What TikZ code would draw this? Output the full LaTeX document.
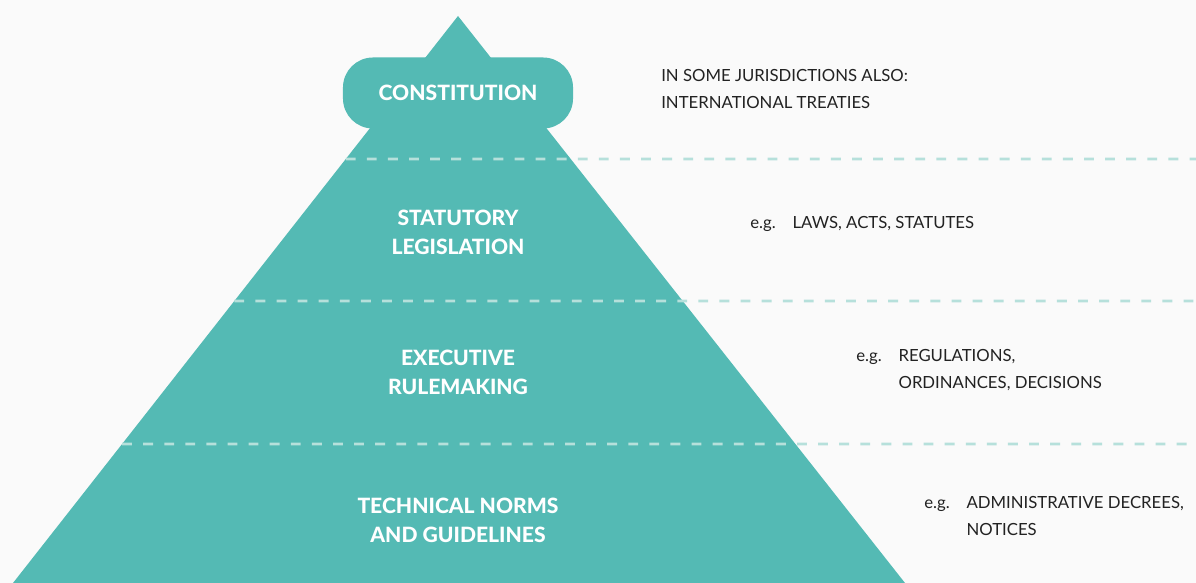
\documentclass[tikz,border=0pt]{standalone}
\usepackage{fontspec}
\setmainfont{Lato}[BoldFont={Lato Heavy}]
\usetikzlibrary{positioning, calc}
\definecolor{PyramidTeal}{RGB}{84, 186, 180}
\definecolor{DividerTeal}{RGB}{182, 224, 219}
\definecolor{PageGrey}{RGB}{250, 250, 250}
\definecolor{NoteDark}{RGB}{34, 34, 34}

\begin{document}
\begin{tikzpicture}[x=0.025cm, y=-0.025cm,
        level/.style={text=white, align=center, font=\fontsize{15}{20.5}\selectfont\bfseries},
        note/.style={text=NoteDark, align=left, inner sep=0pt, anchor=west, font=\fontsize{11.9}{19}\selectfont},
        divider/.style={DividerTeal, line width=2pt, dash pattern=on 7pt off 8pt}]
    \fill[PageGrey] (0,0) rectangle (1196,583);
    \useasboundingbox (0,0) rectangle (1196,583);
    % pyramid
    \coordinate (apex) at (458,16);
    \coordinate (baseL) at (13,583);
    \coordinate (baseR) at (905,583);
    \fill[PyramidTeal] (apex) -- (baseR) -- (baseL) -- cycle;
    \node[fill=PyramidTeal, rounded corners=0.75cm, minimum width=5.75cm, minimum height=1.775cm, level] (constitution) at (458,93) {CONSTITUTION};
    % level dividers
    \coordinate (cut1) at ($(apex)!0.2522!(baseL)$);
    \coordinate (cut2) at ($(apex)!0.5026!(baseL)$);
    \coordinate (cut3) at ($(apex)!0.7549!(baseL)$);
    \coordinate (end1) at (1196,159);
    \coordinate (end2) at (1196,301);
    \coordinate (end3) at (1196,444);
    \draw[divider] (cut1) -- (end1);
    \draw[divider] (cut2) -- (end2);
    \draw[divider] (cut3) -- (end3);
    % level names
    \node[level] (statutory) at (458,232) {STATUTORY\\LEGISLATION};
    \node[level] (executive) at (458,372) {EXECUTIVE\\RULEMAKING};
    \node[level] (technical) at (458,520) {TECHNICAL NORMS\\AND GUIDELINES};
    % examples
    \node[note] (treaties) at (661,89) {IN SOME JURISDICTIONS ALSO:\\INTERNATIONAL TREATIES};
    \node[note] (laws) at (750,223) {\begin{tabular}{@{}l@{\hspace{12pt}}l@{}}e.g. & LAWS, ACTS, STATUTES\end{tabular}};
    \node[note] (regulations) at (856,369.5) {\begin{tabular}{@{}l@{\hspace{12pt}}l@{}}e.g. & REGULATIONS,\\ & ORDINANCES, DECISIONS\end{tabular}};
    \node[note] (decrees) at (924,516.5) {\begin{tabular}{@{}l@{\hspace{12pt}}l@{}}e.g. & ADMINISTRATIVE DECREES,\\ & NOTICES\end{tabular}};
\end{tikzpicture}
\end{document}
